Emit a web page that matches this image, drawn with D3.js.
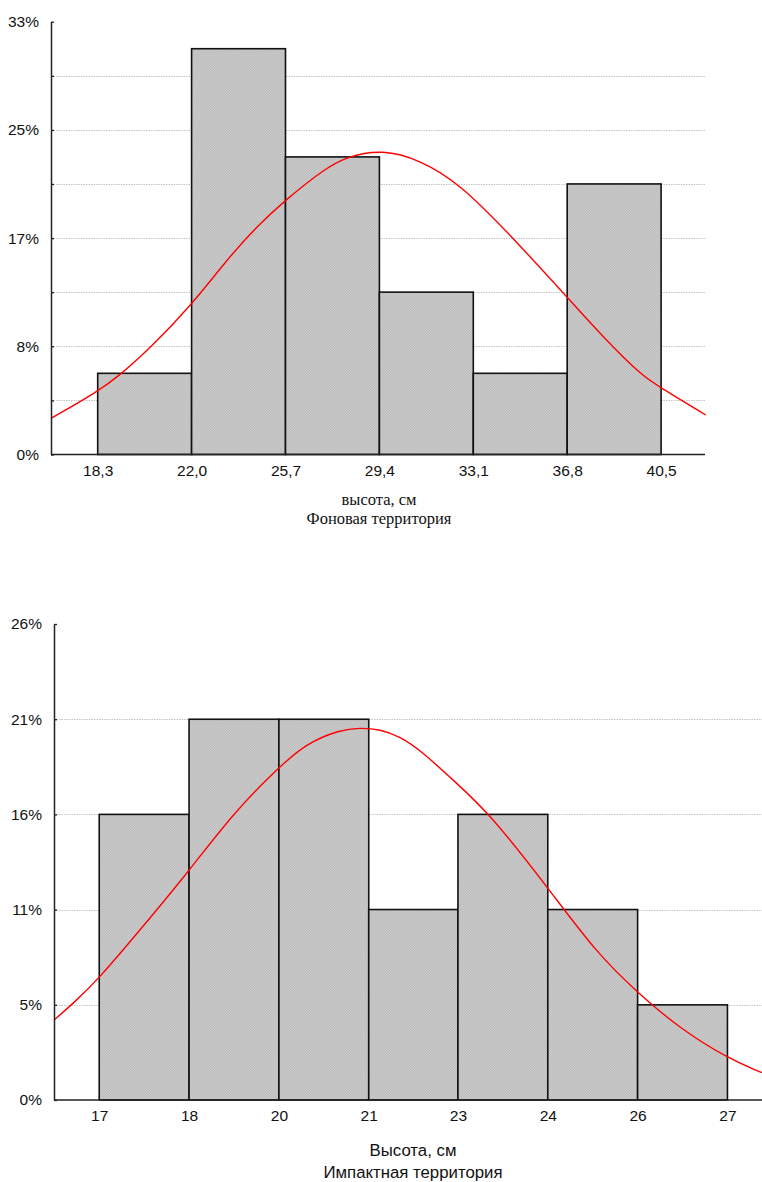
<!DOCTYPE html>
<html>
<head>
<meta charset="utf-8">
<script src="https://cdn.jsdelivr.net/npm/d3@7"></script>
<style>
  body { margin: 0; background: #fff; }
  svg { display: block; }
  .tick-label { font-family: "Liberation Sans", Arial, sans-serif; font-size: 15.5px; fill: #111; }
</style>
</head>
<body>
<div id="chart"></div>
<script>
// ---- top histogram (Фоновая территория) ----
const topEdges = [18.3, 22.0, 25.7, 29.4, 33.1, 36.8, 40.5];
const topPercents = [6.19, 30.94, 22.69, 12.38, 6.19, 20.63];
const topYTicks = [0, 4.125, 8.25, 12.375, 16.5, 20.625, 24.75, 28.875, 33];
const topYLabels = ["0%", "", "8%", "", "17%", "", "25%", "", "33%"];
// fitted normal curve
const topCurveX = [16.46, 18.30, 19.18, 20.36, 22.00, 23.38, 24.56, 25.70, 27.18, 28.10, 29.54, 30.99, 32.56, 34.66, 36.78, 38.20, 39.78, 40.47, 42.26];
const topCurveY = [2.76, 4.79, 6.06, 8.10, 11.40, 14.83, 17.37, 19.41, 21.70, 22.71, 23.27, 22.46, 20.68, 16.53, 12.03, 8.98, 5.93, 5.12, 3.01];

// ---- bottom histogram (Импактная территория) ----
const botEdges = [17, 18.43, 19.86, 21.29, 22.71, 24.14, 25.57, 27];
const botXLabels = ["17", "18", "20", "21", "23", "24", "26", "27"];
const botPercents = [15.79, 21.05, 21.05, 10.53, 15.79, 10.53, 5.26];
const botYTicks = [0, 5.263, 10.526, 15.789, 21.053, 26.316];
const botYLabels = ["0%", "5%", "11%", "16%", "21%", "26%"];
const botCurveX = [16.28, 16.59, 17.00, 17.65, 18.42, 19.13, 19.85, 20.30, 20.83, 21.15, 21.47, 21.79, 22.11, 22.69, 23.22, 24.15, 24.92, 25.58, 26.24, 27.00, 27.55];
const botCurveY = [4.42, 5.35, 6.73, 9.40, 12.62, 15.85, 18.37, 19.72, 20.46, 20.58, 20.50, 20.09, 19.35, 17.51, 15.81, 11.70, 8.11, 5.90, 3.96, 2.31, 1.51];

const W = 762, H = 1182;
const svg = d3.select("#chart").append("svg").attr("width", W).attr("height", H);

// fine hatched grey fill like the original
const pat = svg.append("defs").append("pattern")
  .attr("id", "hatch").attr("patternUnits", "userSpaceOnUse")
  .attr("width", 2.5).attr("height", 2.5);
pat.append("rect").attr("width", 2.5).attr("height", 2.5).attr("fill", "#cdcdcd");
pat.append("path").attr("d", "M-0.5,0.5 L0.5,-0.5 M0,2.5 L2.5,0 M2,3 L3,2")
  .attr("stroke", "#ababab").attr("stroke-width", 0.7);

function drawHist(cfg) {
  const x = d3.scaleLinear().domain(cfg.xDomain).range(cfg.xRange);
  const y = d3.scaleLinear().domain(cfg.yDomain).range(cfg.yRange);
  const g = svg.append("g");

  // dotted grid lines
  g.selectAll("line.grid")
    .data(cfg.yTicks.filter((t, i) => t > 0 && i < cfg.yTicks.length - 1))
    .enter().append("line")
    .attr("x1", cfg.xRange[0]).attr("x2", cfg.axisEnd)
    .attr("y1", d => Math.round(y(d)) + 0.5).attr("y2", d => Math.round(y(d)) + 0.5)
    .attr("stroke", "#c4c4c4").attr("stroke-width", 1)
    .attr("stroke-dasharray", "1.5,1");

  // bars
  const bins = cfg.values.map((v, i) => ({ x0: cfg.edges[i], x1: cfg.edges[i + 1], v }));
  g.selectAll("rect.bar")
    .data(bins)
    .enter().append("rect")
    .attr("x", d => x(d.x0))
    .attr("y", d => y(d.v))
    .attr("width", d => x(d.x1) - x(d.x0))
    .attr("height", d => y(0) - y(d.v))
    .attr("fill", "url(#hatch)")
    .attr("stroke", "#111").attr("stroke-width", 1.6);

  // fitted curve
  const pts = cfg.curveX.map((cx, i) => [cx, cfg.curveY[i]]);
  g.append("path")
    .datum(pts)
    .attr("fill", "none").attr("stroke", "#ff0000").attr("stroke-width", 1.4)
    .attr("d", d3.line().x(d => x(d[0])).y(d => y(d[1])).curve(d3.curveBasis));

  // y axis: line, inward ticks, labels
  const yAxis = d3.axisLeft(y).tickValues(cfg.yTicks).tickSizeInner(-3).tickSizeOuter(0)
    .tickPadding(12).tickFormat((d, i) => cfg.yLabels[i]);
  const ya = g.append("g").attr("transform", `translate(${cfg.xRange[0]},0)`).call(yAxis);
  ya.select(".domain").attr("stroke", "#222").attr("stroke-width", 1.5);
  ya.selectAll(".tick line").attr("stroke", "#222").attr("stroke-width", 1.3);
  ya.selectAll(".tick text").attr("class", "tick-label");

  // x axis baseline
  g.append("line")
    .attr("x1", cfg.xRange[0]).attr("x2", cfg.axisEnd)
    .attr("y1", y(0)).attr("y2", y(0))
    .attr("stroke", "#222").attr("stroke-width", 1.6);

  // x tick labels at bin edges
  const xAxis = d3.axisBottom(x).tickValues(cfg.edges).tickSize(0).tickPadding(10)
    .tickFormat((d, i) => cfg.xLabels[i]);
  const xa = g.append("g").attr("transform", `translate(0,${y(0)})`).call(xAxis);
  xa.select(".domain").remove();
  xa.selectAll(".tick text").attr("class", "tick-label");

  // titles
  g.selectAll("text.title")
    .data(cfg.titles)
    .enter().append("text")
    .attr("x", cfg.titleX)
    .attr("y", (d, i) => cfg.titleY + i * cfg.titleStep)
    .attr("text-anchor", "middle")
    .attr("font-family", cfg.titleFont)
    .attr("font-size", cfg.titleSize)
    .attr("fill", "#111")
    .text(d => d);
}

drawHist({
  edges: topEdges, values: topPercents,
  xLabels: topEdges.map(v => v.toFixed(1).replace(".", ",")),
  xDomain: [16.46, 42.23], xRange: [51, 705],
  yDomain: [0, 33], yRange: [454.5, 21.7],
  yTicks: topYTicks, yLabels: topYLabels,
  axisEnd: 705,
  curveX: topCurveX, curveY: topCurveY,
  titles: ["высота, см", "Фоновая территория"],
  titleX: 379, titleY: 505, titleStep: 18.5,
  titleFont: "'Liberation Serif', 'Times New Roman', serif", titleSize: "16.5px"
});

drawHist({
  edges: botEdges, values: botPercents,
  xLabels: botXLabels,
  xDomain: [16.28, 27.55], xRange: [54, 762],
  yDomain: [0, 26.316], yRange: [1100, 624],
  yTicks: botYTicks, yLabels: botYLabels,
  axisEnd: 762,
  curveX: botCurveX, curveY: botCurveY,
  titles: ["Высота, см", "Импактная территория"],
  titleX: 413, titleY: 1156, titleStep: 22,
  titleFont: "'Liberation Sans', Arial, sans-serif", titleSize: "16.8px"
});
</script>
</body>
</html>
